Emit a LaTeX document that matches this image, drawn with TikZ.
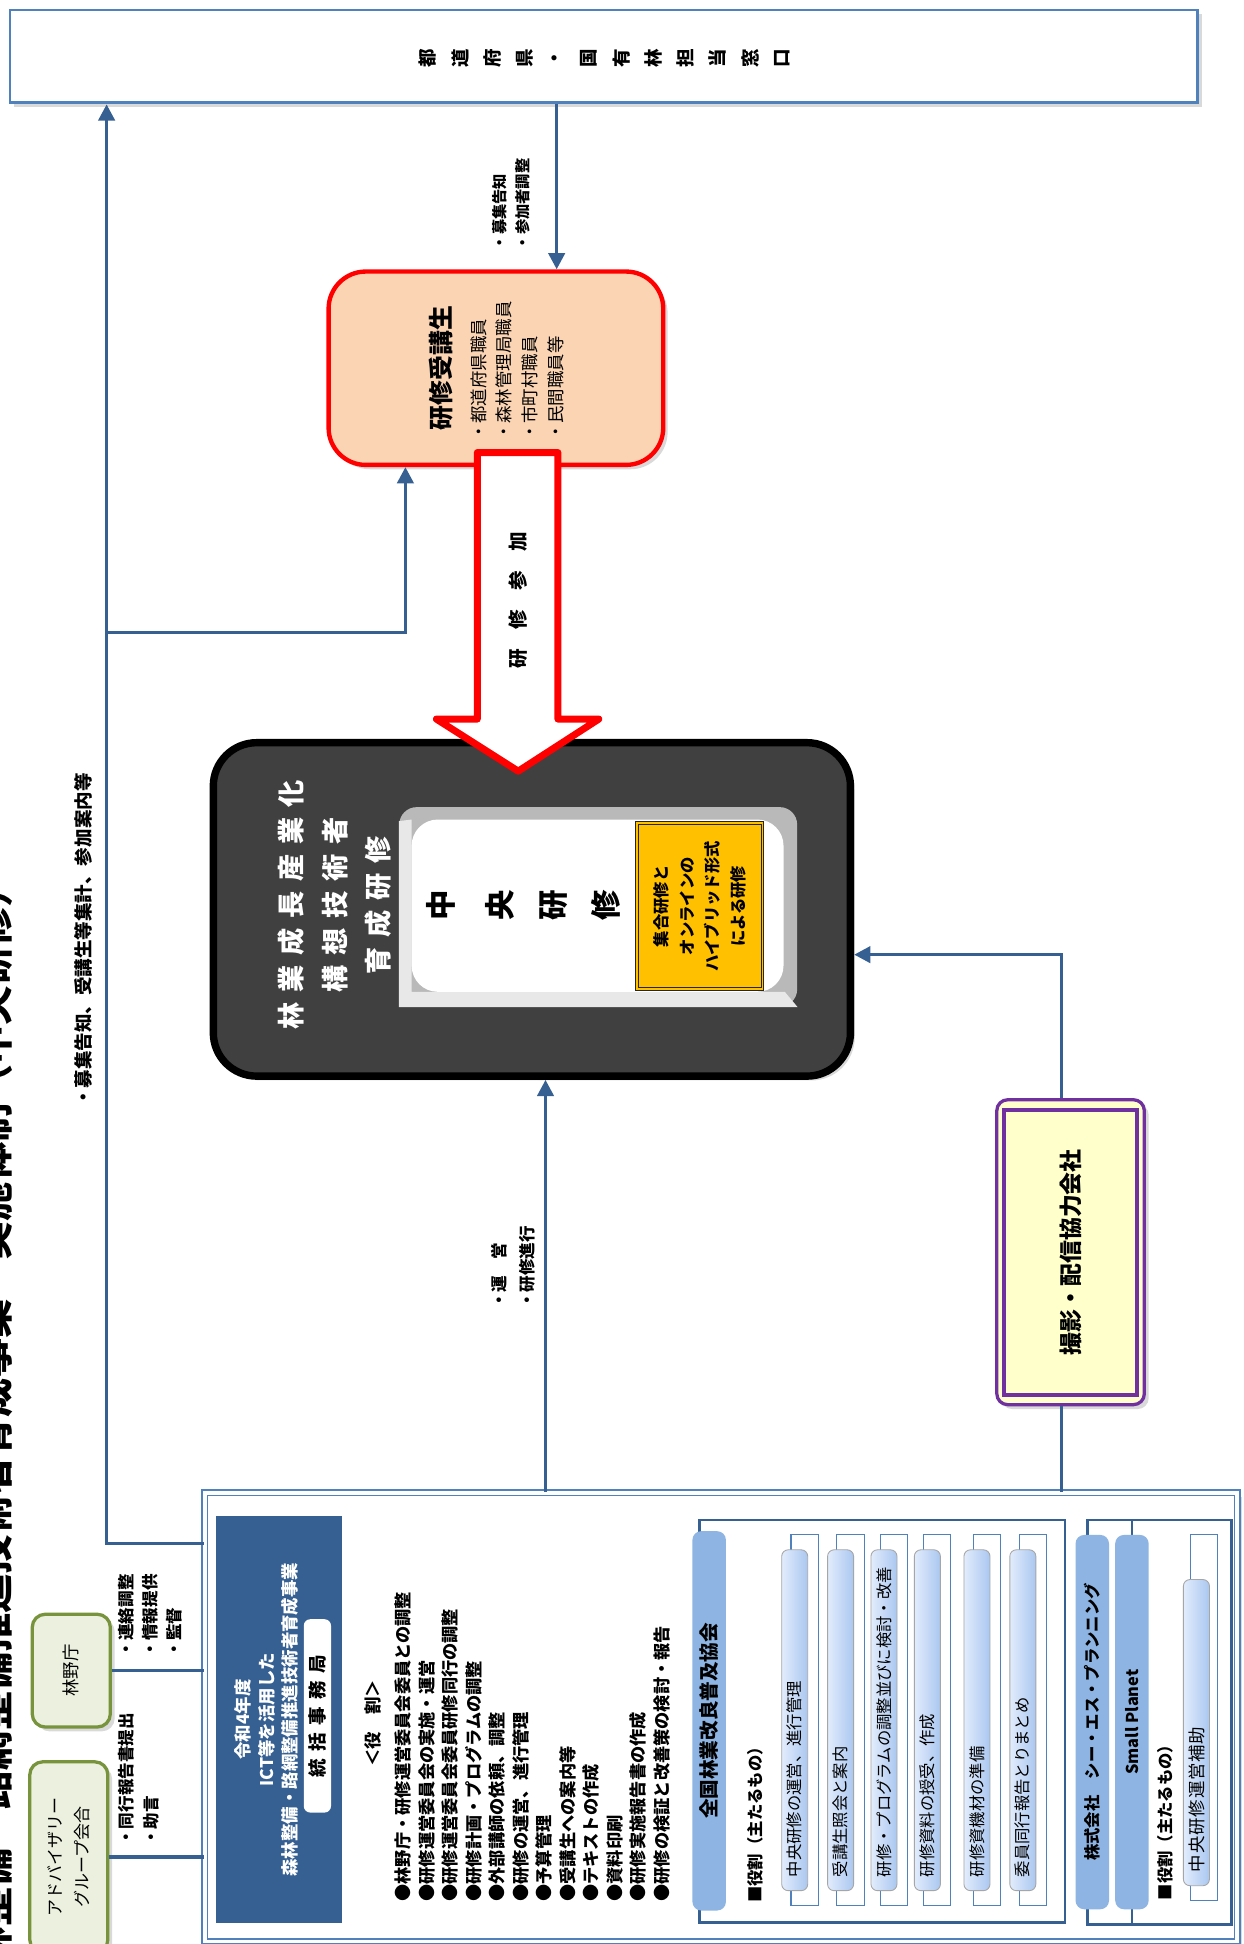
\documentclass[tikz,border=0pt]{standalone}
\usepackage{fontspec}
\setmainfont{Noto Sans CJK JP}
\usetikzlibrary{arrows.meta, calc, shadows}
\definecolor{lineblue}{RGB}{55,96,146}
\definecolor{frameblue}{RGB}{79,129,189}
\definecolor{peach}{RGB}{251,212,180}
\definecolor{darkbox}{RGB}{64,64,64}
\definecolor{hybrid}{RGB}{255,192,0}
\definecolor{purplebox}{RGB}{112,48,160}
\definecolor{paleyellow}{RGB}{255,255,204}
\definecolor{panelblue}{RGB}{54,96,146}
\definecolor{tabblue}{RGB}{141,180,226}
\definecolor{barlight}{RGB}{226,236,252}
\definecolor{bardark}{RGB}{170,199,240}
\definecolor{greenline}{RGB}{119,147,60}
\definecolor{greenfill}{RGB}{235,241,222}
\newcommand{\jfs}[2]{\fontsize{#1}{#2}\selectfont}

\begin{document}
\begin{tikzpicture}[
    x=0.02cm, y=-0.02cm,
    conn/.style={draw=lineblue, line width=1.6pt},
    arr/.style={conn, -{Triangle[length=7.5pt, width=7.5pt]}},
    vtxt/.style={rotate=90, inner sep=0pt, align=center},
    vlab/.style={rotate=90, inner sep=0pt, anchor=west, align=left},
    tab/.style={rotate=90, rounded corners=4pt, fill=tabblue, minimum height=0.54cm,
        inner sep=0pt},
    rolebar/.style={rotate=90, rounded corners=3pt, draw=gray!70, left color=barlight,
        right color=bardark, minimum height=0.42cm, text width=5.06cm, inner xsep=0.22cm,
        inner ysep=0pt, align=left, font=\jfs{7.5}{9}},
    barframe/.style={draw=frameblue, fill=white, line width=0.5pt},
    shade/.style={drop shadow={opacity=0.3, shadow xshift=2pt, shadow yshift=-2pt}}
]
\useasboundingbox (0,0) rectangle (1003,1568);

% Title (cut by the page edge)
\node[vtxt, anchor=east, font=\bfseries\jfs{18}{20}] (title) at (-5,700)
    {令和4年度　ICT等を活用した森林整備・路網整備推進技術者育成事業　実施体制（中央研修）};

% Prefecture window (top)
\node[draw=frameblue, line width=1.3pt, fill=white, minimum width=19.16cm,
      minimum height=1.5cm, shade] (pref) at (487,45.5) {};
\foreach \c [count=\i] in {都,道,府,県,・,国,有,林,担,当,窓,口}
    \node[rotate=90, inner sep=0pt, font=\bfseries\jfs{8.5}{9}] (pc\i) at ({345+26*(\i-1)},47) {\c};

% Trainees
\node[draw=red, line width=2pt, fill=peach, rounded corners=0.6cm, minimum width=5.4cm,
      minimum height=3.12cm, shade] (trainee) at (400,297) {};
\node[vtxt, font=\bfseries\jfs{11.4}{13}] (trtitle) at (356,297) {研修受講生};
\node[vlab, font=\jfs{8}{11.8}] (trlist) at (417,356)
    {・都道府県職員\\・森林管理局職員\\・市町村職員\\・民間職員等};

% Central training
\node[draw=black, line width=3.4pt, fill=darkbox, rounded corners=0.7cm,
      minimum width=10.28cm, minimum height=5.38cm, shade] (ctr) at (429,733.5) {};
\node[vtxt, text=white, font=\bfseries\jfs{12.5}{19.9}\addfontfeature{LetterSpace=36}]
    (ctrtitle) at (270,730) {林業成長産業化\\構想技術者\\育成研修};
\node[fill=gray!55, rounded corners=8pt, minimum width=6.42cm, minimum height=3.22cm]
    (cbox) at (482.5,731.5) {};
\fill[gray!18] (cbox.south west) -- ++(0,-150) -- (332,661) -- (332,800) -- (633,800)
    -- (cbox.south east) -- cycle;
\node[fill=white, rounded corners=12pt, minimum width=6cm, minimum height=2.78cm]
    (cwhite) at (482,730.5) {};
\foreach \c/\px [count=\i] in {中/356, 央/403, 研/447, 修/489}
    \node[rotate=90, inner sep=0pt, font=\bfseries\jfs{14}{16}] (cc\i) at (\px,730) {\c};
\node[rotate=90, draw=black!85, double=hybrid, double distance=0.8pt, line width=0.5pt,
      fill=hybrid, minimum width=2.68cm, minimum height=2.02cm, inner sep=0pt,
      align=center, font=\bfseries\jfs{7.5}{11.8}] (hyb) at (564.5,731)
    {集合研修と\\オンラインの\\ハイブリッド形式\\による研修};

% Streaming company
\node[draw=purplebox, line width=1.5pt, fill=paleyellow, rounded corners=5pt,
      minimum width=2.38cm, minimum height=4.92cm, shade] (photo) at (863.5,1010) {};
\node[rotate=90, draw=purplebox, line width=1.8pt, fill=paleyellow, minimum width=4.6cm,
      minimum height=2.14cm, font=\bfseries\jfs{10.5}{12}] (photoin) at (863.5,1010)
    {撮影・配信協力会社};

% Secretariat (bottom)
\node[draw=frameblue, double=white, double distance=1.8pt, line width=0.7pt, fill=white,
      minimum width=16.66cm, minimum height=7.24cm, shade] (office) at (581.5,1385) {};
\node[fill=panelblue, minimum width=2.04cm, minimum height=6.56cm] (panel) at (225,1387) {};
\node[vtxt, text=white, font=\bfseries\jfs{8}{10.8}] (paneltxt) at (215,1387)
    {令和4年度\\ICT等を活用した\\森林整備・路網整備推進技術者育成事業};
\node[rotate=90, fill=white, rounded corners=3pt, minimum width=3.12cm, minimum height=0.44cm,
      inner sep=0pt, font=\bfseries\jfs{8.5}{10}\addfontfeature{LetterSpace=40}]
    (chief) at (256,1384) {統括事務局};
\node[vtxt, font=\bfseries\jfs{8}{10}] (roles) at (301,1390) {＜役　割＞};
\node[vlab, font=\bfseries\jfs{7.9}{10.8}] (duties) at (429.5,1534)
    {●林野庁・研修運営委員会委員との調整\\●研修運営委員会の実施・運営\\
     ●研修運営委員会委員研修同行の調整\\●研修計画・プログラムの調整\\
     ●外部講師の依頼、調整\\●研修の運営、進行管理\\●予算管理\\●受講生への案内等\\
     ●テキストの作成\\●資料印刷\\●研修実施報告書の作成\\●研修の検証と改善策の検討・報告};

% Partner: 全国林業改良普及協会
\node[draw=lineblue, line width=1.3pt, minimum width=5.9cm, minimum height=6.5cm]
    (zen) at (711.5,1388.5) {};
\node[tab, minimum width=6.12cm, font=\bfseries\jfs{9}{10}] (zentab) at (572,1388)
    {全国林業改良普及協会};
\node[vlab, font=\bfseries\jfs{7.5}{9}] (zenrole) at (609,1535) {■役割（主たるもの）};
\foreach \bx/\t [count=\i] in {641/中央研修の運営、進行管理, 678/受講生照会と案内,
        713/研修・プログラムの調整並びに検討・改善, 748/研修資料の授受、作成,
        788/研修資機材の準備, 825/委員同行報告とりまとめ} {
    \draw[barframe] (\bx-3,1238) rectangle (\bx+19,1537);
    \node[rolebar, minimum width=5.5cm] (zb\i) at (\bx,1387.5) {\t};
}

% Partner: シー・エス・プランニング / Small Planet
\node[draw=lineblue, line width=1.3pt, minimum width=2.32cm, minimum height=6.52cm]
    (cs) at (935,1389) {};
\node[draw=lineblue, line width=1.3pt, minimum width=1.6cm, minimum height=6.52cm]
    (sp) at (953,1389) {};
\node[tab, minimum width=6.04cm, font=\bfseries\jfs{7.5}{9}] (cstab) at (881,1389)
    {株式会社　シー・エス・プランニング};
\node[tab, minimum width=6.04cm, font=\bfseries\jfs{7.5}{9}] (sptab) at (913,1389)
    {Small Planet};
\node[vlab, font=\bfseries\jfs{7.5}{9}] (csrole) at (940,1533) {■役割（主たるもの）};
\draw[barframe] (960,1238) rectangle (982,1533);
\node[rolebar, minimum width=4.94cm, text width=4.5cm, font=\jfs{8}{9}\addfontfeature{LetterSpace=5}]
    (cb1) at (965,1397.5) {中央研修運営補助};

% Forestry Agency / advisory group
\node[rotate=90, draw=greenline, line width=1.5pt, fill=greenfill, rounded corners=6pt,
      minimum width=1.82cm, minimum height=1.26cm, font=\jfs{8}{10}, shade]
    (rinya) at (57.5,1347.5) {林野庁};
\node[rotate=90, draw=greenline, line width=1.5pt, fill=greenfill, rounded corners=6pt,
      minimum width=3.08cm, minimum height=1.26cm, align=center, font=\jfs{7.8}{12.5}, shade]
    (adv) at (55.5,1498) {アドバイザリー\\グループ会合};

% Connectors
\coordinate (j1) at (86,1245);
\coordinate (j5) at (86,510);
\coordinate (j6) at (327,510);
\coordinate (j2) at (440,1000);
\coordinate (j4) at (449,150);
\coordinate (j3) at (856,770);
\draw[arr] (j1 -| office.west) -- (j1) -- (j1 |- pref.south);
\draw[arr] (j5) -- (j6) -- (j6 |- trainee.south);
\draw[arr] (j4 |- pref.south) -- (j4 |- trainee.north);
\draw[arr] (j2 |- office.north) -- (j2 |- ctr.south);
\draw[conn] (j3 |- office.north) -- (j3 |- photo.south);
\draw[arr] (j3 |- photo.north) -- (j3) -- (j3 -| ctr.east);
\draw[conn] (rinya.south) -- (rinya.south -| office.west);
\draw[conn] (adv.south) -- (adv.south -| office.west);

% Participation arrow
\draw[red, line width=3.2pt, fill=white, line join=round] (385,365) -- (450,365) -- (450,580)
    -- (483,580) -- (418,622) -- (352,580) -- (385,580) -- cycle;
\node[vtxt, font=\bfseries\jfs{9}{10}] (join) at (418,484) {研　修　参　加};

% Connector labels
\node[vlab, font=\bfseries\jfs{7}{10.8}] (lbtop) at (412.5,202) {・募集告知\\・参加者調整};
\node[vlab, font=\bfseries\jfs{7.6}{12.5}] (lbrun) at (414,1056) {・運　営\\・研修進行};
\node[vlab, font=\bfseries\jfs{8.5}{10}] (lbleft) at (67,893) {・募集告知、受講生等集計、参加案内等};
\node[vlab, font=\bfseries\jfs{7.6}{11.1}] (lbrinya) at (121,1337) {・連絡調整\\・情報提供\\・監督};
\node[vlab, font=\bfseries\jfs{7.6}{11.4}] (lbadv) at (112,1489) {・同行報告書提出\\・助言};
\end{tikzpicture}
\end{document}
